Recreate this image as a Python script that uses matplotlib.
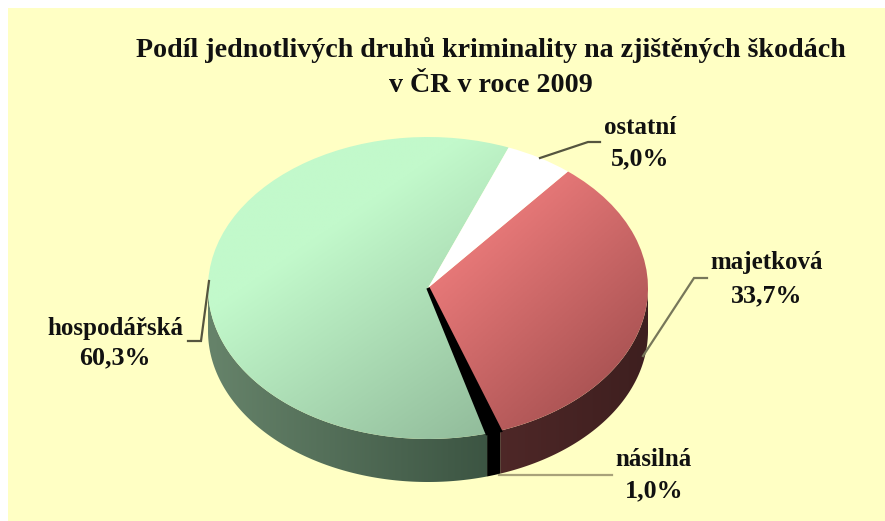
"""Pie chart of damages by crime type, drawn as a tilted 3D-looking disc."""
import matplotlib

matplotlib.use("Agg")
import matplotlib.pyplot as plt
import numpy as np
from matplotlib.colors import LinearSegmentedColormap
from matplotlib.patches import Polygon, Rectangle

W, H = 885, 521
BG = "#FFFFC4"

title_lines = ["Podíl jednotlivých druhů kriminality na zjištěných škodách", "v ČR v roce 2009"]
categories = ["majetková", "násilná", "hospodářská", "ostatní"]
shares = [33.7, 1.0, 60.3, 5.0]
share_labels = ["33,7%", "1,0%", "60,3%", "5,0%"]

START = 50.5
CX, CY, RX, RY = 428, 288, 220, 151
DEPTH = 43

# top gradient (upper left -> lower right), side gradient (left -> right)
top_colors = {
    "majetková": ("#F48080", "#A85252"),
    "násilná": ("#000000", "#000000"),
    "hospodářská": ("#C2F9CB", "#8FB898"),
    "ostatní": ("#FFFFFF", "#FFFFFF"),
}
side_colors = {
    "majetková": ("#6E3838", "#3E1F1F"),
    "násilná": ("#000000", "#000000"),
    "hospodářská": ("#66836A", "#243A2C"),
}
label_pos = {
    "majetková": (767, 263, 296),
    "násilná": (654, 460, 491),
    "hospodářská": (115, 328, 358),
    "ostatní": (640, 127, 159),
}
leaders = {
    "majetková": [(643, 356), (694, 278), (707, 278)],
    "násilná": [(499, 475), (612, 475)],
    "hospodářská": [(209, 281), (201, 341), (188, 341)],
    "ostatní": [(540, 158), (588, 142), (600, 142)],
}
leader_colors = {"majetková": "#77775A", "násilná": "#A8A27A", "hospodářská": "#55553F", "ostatní": "#55553F"}

plt.rcParams["font.family"] = ["Liberation Serif", "DejaVu Serif"]
fig = plt.figure(figsize=(W / 100, H / 100), dpi=100, facecolor="white")
fig.add_artist(Rectangle((8 / W, 0), 1 - 8 / W, 1 - 8 / H, transform=fig.transFigure,
                         facecolor=BG, edgecolor="none", zorder=-5))

# pie axes stretched over the ellipse box, so ax.pie gives an ellipse
ax = fig.add_axes([(CX - RX) / W, 1 - (CY + RY + DEPTH) / H, 2 * RX / W, (2 * RY + DEPTH) / H])
wedges, _ = ax.pie(shares, startangle=START, counterclock=False, radius=1, labels=None)
ax.set_aspect("auto")
dz = DEPTH / RY
xlim, ylim = (-1, 1), (-1 - dz, 1)
ax.patch.set_visible(False)


def grad(c0, c1):
    return LinearSegmentedColormap.from_list("g", [c0, c1])


xx, yy = np.meshgrid(np.linspace(0, 1, 200), np.linspace(0, 1, 200))
diag = (xx + yy) / 2
horiz = xx

# sides first, only the front half of the rim shows
theta = START
for name, share in zip(categories, shares):
    t1 = theta
    t0 = theta - share * 3.6
    theta = t0
    if name not in side_colors:
        continue
    a0 = max(t0, -180)
    a1 = min(t1, 0)
    if a1 <= a0:
        continue
    a = np.radians(np.linspace(a0, a1, 120))
    top = np.column_stack([np.cos(a), np.sin(a)])
    bot = top[::-1] - [0, dz]
    poly = Polygon(np.vstack([top, bot]), closed=True, facecolor="none", edgecolor="none", zorder=1)
    ax.add_patch(poly)
    im = ax.imshow(horiz, extent=(-1, 1, -1 - dz, 1), origin="lower", aspect="auto",
                   cmap=grad(*side_colors[name]), zorder=1)
    im.set_clip_path(poly)

# tops with their gradient clipped to each wedge
for w, name in zip(wedges, categories):
    w.set_facecolor("none")
    w.set_edgecolor("none")
    w.set_zorder(2)
    c0, c1 = top_colors[name]
    if name == "hospodářská":
        # lighter on the left, darkens toward the lower right
        z = np.clip((xx - 0.3) * 0.9 + (0.5 - yy) * 0.9 + 0.2, 0, 1)
    elif name == "majetková":
        z = np.clip((xx - 0.5) * 1.2 + (0.7 - yy) * 0.9, 0, 1)
    else:
        z = diag
    im = ax.imshow(z, extent=(-1, 1, -1, 1), origin="lower", aspect="auto", cmap=grad(c0, c1),
                   vmin=0, vmax=1, zorder=2)
    im.set_clip_path(w)
    if name == "násilná":
        # the sliver reads thicker than its share in the original
        w.set_edgecolor("black")
        w.set_linewidth(2.5)
        w.set_zorder(3)

ax.set_xlim(*xlim)
ax.set_ylim(*ylim)
ax.axis("off")

# overlay in pixel coordinates for text and leaders
ov = fig.add_axes([0, 0, 1, 1])
ov.set_xlim(0, W)
ov.set_ylim(H, 0)
ov.axis("off")
ov.patch.set_visible(False)

ov.text(491, 50, title_lines[0], ha="center", va="center", fontsize=20.2, fontweight="bold", color="#111111")
ov.text(491, 85, title_lines[1], ha="center", va="center", fontsize=20.2, fontweight="bold", color="#111111")

for name, lab in zip(categories, share_labels):
    x, y1, y2 = label_pos[name]
    ov.text(x, y1, name, ha="center", va="center", fontsize=18, fontweight="bold", color="#111111")
    ov.text(x, y2, lab, ha="center", va="center", fontsize=18.7, fontweight="bold", color="#111111")
    pts = np.array(leaders[name])
    ov.plot(pts[:, 0], pts[:, 1], color=leader_colors[name], lw=1.6, solid_joinstyle="miter")

fig.savefig("out.png", dpi=100, facecolor="white")
